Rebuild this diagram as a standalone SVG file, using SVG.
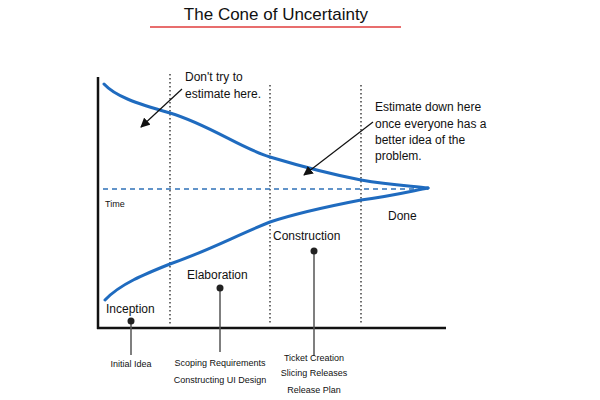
<svg xmlns="http://www.w3.org/2000/svg" width="600" height="400" viewBox="0 0 600 400">
<defs>
<style>
text{font-family:"Liberation Sans","DejaVu Sans",sans-serif;fill:#111}
.t{font-size:17px}
.m{font-size:12px}
.s{font-size:9px}
.c{text-anchor:middle}
.axis{stroke:#111;stroke-width:2.5;fill:none}
.dot{stroke:#222;stroke-width:1.3;stroke-dasharray:1.5 2.5;fill:none}
.curve{stroke:#1f6bbf;stroke-width:3;fill:none;stroke-linecap:round}
.dash{stroke:#2f72b8;stroke-width:1.3;stroke-dasharray:5 4;fill:none}
.pin{stroke:#555;stroke-width:1.5}
.arr{stroke:#111;stroke-width:1.2;fill:none}
</style>
<marker id="ah" viewBox="0 0 10 10" refX="9" refY="5" markerWidth="8" markerHeight="8" orient="auto"><path d="M0,0L10,5L0,10z" fill="#111"/></marker>
</defs>
<g id="title"><text class="t c" x="276" y="20">The Cone of Uncertainty</text><line x1="150" y1="27" x2="401" y2="27" stroke="#e03c3c" stroke-width="1.5"/></g>
<g id="axes"><line class="axis" x1="98" y1="77" x2="98" y2="329"/><line class="axis" x1="97" y2="328" x2="446" y1="328"/></g>
<g id="gridlines"><line class="dot" x1="170" y1="74" x2="170" y2="324"/><line class="dot" x1="270" y1="85" x2="270" y2="324"/><line class="dot" x1="361" y1="85" x2="361" y2="324"/><line class="dash" x1="103" y1="189" x2="428" y2="189"/></g>
<g id="cone"><path class="curve" d="M104,84 C115,96 135,103 170,113 C210,125 240,148 270,157 C300,166 330,174 361,180 C390,185 412,186 428,188"/><path class="curve" d="M105,300 C120,284 145,274 170,264 C210,250 235,236 270,222 C300,212 330,206 361,200 C392,196 412,191 428,188"/></g>
<g id="connectors"><line class="arr" x1="182" y1="89" x2="141" y2="127" marker-end="url(#ah)"/><line class="arr" x1="373" y1="122" x2="304" y2="175" marker-end="url(#ah)"/><line class="pin" x1="131" y1="321" x2="131" y2="355"/><line class="pin" x1="220" y1="288" x2="220" y2="352"/><line class="pin" x1="314" y1="251" x2="314" y2="356"/></g>
<g id="note-early"><text class="m" x="185" y="81">Don't try to</text><text class="m" x="185" y="98">estimate here.</text></g>
<g id="note-late"><text class="m" x="375" y="111">Estimate down here</text><text class="m" x="375" y="128">once everyone has a</text><text class="m" x="375" y="144">better idea of the</text><text class="m" x="375" y="160">problem.</text></g>
<g id="time"><text class="s" x="105" y="207">Time</text></g>
<g id="done"><text class="m" x="388" y="220">Done</text></g>
<g id="inception"><text class="m" x="106" y="313">Inception</text><circle cx="131" cy="321" r="3.5" fill="#222"/><text class="s c" x="131" y="367">Initial Idea</text></g>
<g id="elaboration"><text class="m" x="187" y="279">Elaboration</text><circle cx="220" cy="288" r="3.5" fill="#222"/><text class="s c" x="220" y="366">Scoping Requirements</text><text class="s c" x="220" y="383">Constructing UI Design</text></g>
<g id="construction"><text class="m" x="273" y="240">Construction</text><circle cx="314" cy="251" r="3.5" fill="#222"/><text class="s c" x="314" y="361">Ticket Creation</text><text class="s c" x="314" y="376">Slicing Releases</text><text class="s c" x="314" y="393">Release Plan</text></g>
</svg>
